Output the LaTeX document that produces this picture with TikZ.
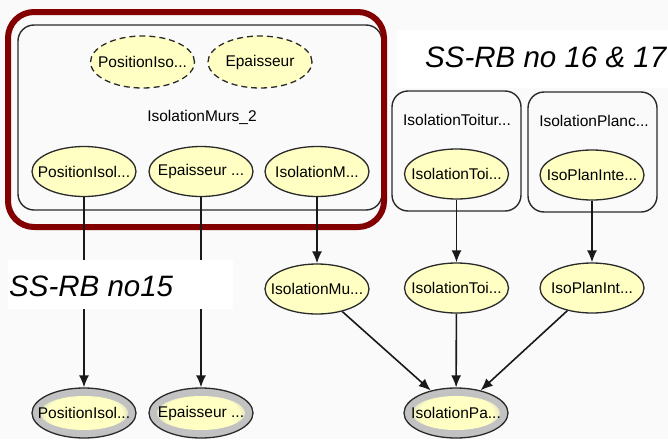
\documentclass[tikz,border=0pt]{standalone}
\usepackage{fontspec}
\setmainfont{Liberation Sans}
\usetikzlibrary{shapes.geometric,arrows.meta}
\definecolor{ny}{HTML}{FFFFC4}
\definecolor{ng}{HTML}{C2C2C2}
\definecolor{nl}{HTML}{2A2A2A}
\definecolor{rb}{HTML}{820000}
\definecolor{bg}{HTML}{FAFAFA}
\newcommand\zc[1]{\makebox[0pt]{#1}}
\pgfdeclareradialshading{softy}{\pgfpoint{0bp}{0bp}}{color(0bp)=(ny); color(18bp)=(ny); color(25bp)=(ng); color(50bp)=(ng)}
\begin{document}
\begin{tikzpicture}[x=1pt,y=-1pt,
  var/.style={ellipse, draw=nl, line width=1.3pt, fill=ny, minimum width=104pt, minimum height=50pt, inner sep=0pt, font=\fontsize{15.5}{18}\selectfont},
  dvar/.style={var, line width=1.3pt, dash pattern=on 6pt off 4pt},
  obs/.style={var, fill=ng, path picture={\shade[shading=softy] (path picture bounding box.center) ellipse (44pt and 17pt);}},
  grp/.style={rectangle, draw=nl, line width=1.4pt, rounded corners=16pt, inner sep=0pt},
  redgrp/.style={rectangle, draw=rb, line width=6pt, rounded corners=26pt, inner sep=0pt},
  lbl/.style={inner sep=0pt, font=\fontsize{15.5}{18}\selectfont},
  edge/.style={draw=black!90, line width=1.6pt, -{Latex[length=12pt,width=10pt]}},
  big/.style={inner sep=0pt, font=\fontsize{29.5}{34}\selectfont\itshape},
  wbox/.style={rectangle, fill=white, inner sep=0pt}
]
\fill[bg] (0,0) rectangle (668,439);
\useasboundingbox (0,0) rectangle (668,439);

% containers
\node[grp, minimum width=364pt, minimum height=185pt] (g1) at (200,117.5) {};
\node[redgrp, minimum width=376pt, minimum height=215pt] (r1) at (196,119.5) {};
\node[lbl] (g1l) at (202,117) {IsolationMurs\_2};
\node[grp, minimum width=129pt, minimum height=120pt] (g2) at (456.5,151) {};
\node[lbl] (g2l) at (457,120) {IsolationToitur...};
\node[grp, minimum width=129pt, minimum height=120pt] (g3) at (592.5,152) {};
\node[lbl] (g3l) at (594,121) {IsolationPlanc...};

% nodes
\node[dvar, minimum height=52pt] (d1) at (142.5,62) {\zc{PositionIso...}};
\node[dvar, minimum height=52pt] (d2) at (260,62) {\zc{Epaisseur}};
\node[var] (a1) at (84,171.5) {\zc{PositionIsol...}};
\node[var] (a2) at (201,171.5) {\zc{Epaisseur ...}};
\node[var] (a3) at (317,171.5) {\zc{IsolationM...}};
\node[var] (t1) at (456.5,174) {\zc{IsolationToi...}};
\node[var] (p1) at (592,175) {\zc{IsoPlanInte...}};
\node[var] (m) at (317,289) {\zc{IsolationMu...}};
\node[var] (t2) at (456.5,288) {\zc{IsolationToi...}};
\node[var] (p2) at (592,288) {\zc{IsoPlanInt...}};
\node[obs] (b1) at (84,413) {\zc{PositionIsol...}};
\node[obs] (b2) at (201,413) {\zc{Epaisseur ...}};
\node[obs] (b3) at (456,413) {\zc{IsolationPa...}};

% edges
\draw[edge] (a1) -- (b1);
\draw[edge] (a2) -- (b2);
\draw[edge] (a3) -- (m);
\draw[edge] (t1) -- (t2);
\draw[edge] (p1) -- (p2);
\draw[edge] (m) -- (b3);
\draw[edge] (t2) -- (b3);
\draw[edge] (p2) -- (b3);

% labels
\node[wbox, minimum width=225pt, minimum height=49pt] (lb1) at (120.5,284.5) {};
\node[big, anchor=west] (t15) at (9,286) {SS-RB no15};
\node[wbox, minimum width=271pt, minimum height=58pt] (lb2) at (532.5,59) {};
\node[big, anchor=west] (t1617) at (425,57) {SS-RB no 16 \& 17};
\end{tikzpicture}
\end{document}
